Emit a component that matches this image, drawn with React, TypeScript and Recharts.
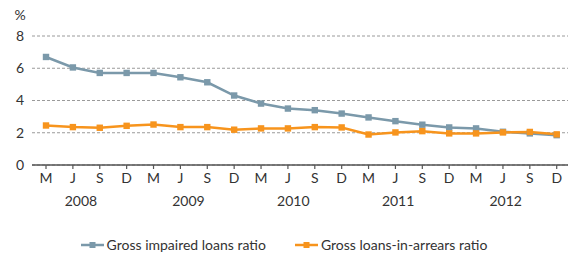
import React from 'react';
import { LineChart, Line, XAxis, YAxis, CartesianGrid, Legend } from 'recharts';

const months = ['M','J','S','D','M','J','S','D','M','J','S','D','M','J','S','D','M','J','S','D'];
const years = ['2008','2009','2010','2011','2012'];
const yearTicks = [1.3, 5.3, 9.2, 13.1, 17.1];
const impaired = [6.7,6.05,5.71,5.71,5.71,5.44,5.13,4.31,3.81,3.5,3.4,3.19,2.95,2.72,2.5,2.33,2.27,2.06,1.96,1.85];
const arrears = [2.45,2.35,2.31,2.43,2.51,2.35,2.35,2.19,2.27,2.27,2.35,2.33,1.89,2.02,2.1,1.96,1.96,2.02,2.05,1.9];
const yTicks = [0,2,4,6,8];

const BLUE = '#7b99aa';
const ORANGE = '#f7941d';
const TEXT = '#333333';
const FONT = 'Lato, "Open Sans", sans-serif';

const data = months.map((m, i) => ({ idx: i, month: m, impaired: impaired[i], arrears: arrears[i] }));

const squareDot = (color: string) => (props: any) => {
  const { cx, cy, index } = props;
  if (cx == null || cy == null) return <g key={index} />;
  return <rect key={index} x={cx - 3.2} y={cy - 3.2} width={6.4} height={6.4} fill={color} />;
};

const LegendContent = () => {
  const items = [
    { name: 'Gross impaired loans ratio', color: BLUE },
    { name: 'Gross loans-in-arrears ratio', color: ORANGE },
  ];
  return (
    <div style={{ height: 39, paddingTop: 19, boxSizing: 'border-box', display: 'flex', justifyContent: 'center', gap: 29, fontFamily: FONT, fontSize: 14, color: TEXT, lineHeight: '20px' }}>
      {items.map((it) => (
        <div key={it.name} style={{ display: 'flex', alignItems: 'center' }}>
          <svg width={23} height={8} style={{ marginRight: 3 }}>
            <line x1={0} y1={4} x2={23} y2={4} stroke={it.color} strokeWidth={2.5} />
            <rect x={8.5} y={1} width={6} height={6} fill={it.color} />
          </svg>
          <span>{it.name}</span>
        </div>
      ))}
    </div>
  );
};

const PercentLabel = (props: any) => {
  const vb = props.viewBox || { x: 0, y: 36 };
  return (
    <text x={vb.x + 20} y={vb.y - 16} textAnchor="middle" fill={TEXT} fontSize={14} fontFamily={FONT}>%</text>
  );
};

export default function App() {
  return (
    <div style={{ position: 'absolute', left: 0, top: 0, width: 568, height: 255, background: '#fff' }}>
      <LineChart width={568} height={255} data={data} margin={{ top: 36, right: 0, bottom: 0, left: 0 }}>
        <CartesianGrid vertical={false} stroke="#9a9a9a" strokeDasharray="3 2" strokeWidth={1} />
        <XAxis
          dataKey="idx"
          type="number"
          domain={[-0.521, 19.42]}
          allowDataOverflow
          ticks={data.map((d) => d.idx)}
          interval={0}
          tickFormatter={(v: number) => months[v]}
          tickSize={4}
          tickMargin={4}
          height={31}
          axisLine={{ stroke: '#555', strokeWidth: 1.5 }}
          tickLine={{ stroke: '#555', strokeWidth: 1.2 }}
          tick={{ fill: TEXT, fontSize: 14, fontFamily: FONT }}
        />
        <XAxis
          xAxisId="year"
          dataKey="idx"
          type="number"
          domain={[-0.521, 19.42]}
          allowDataOverflow
          ticks={yearTicks}
          interval={0}
          tickFormatter={(v: number) => years[yearTicks.indexOf(v)]}
          tickSize={0}
          tickMargin={0}
          height={20}
          axisLine={false}
          tickLine={false}
          tick={{ fill: TEXT, fontSize: 14, fontFamily: FONT }}
        />
        <YAxis
          domain={[0, 8]}
          ticks={yTicks}
          width={32}
          axisLine={false}
          tickLine={false}
          tick={{ fill: TEXT, fontSize: 14, fontFamily: FONT }}
          label={<PercentLabel />}
        />
        <Legend verticalAlign="bottom" content={<LegendContent />} wrapperStyle={{ left: 0, width: 568 }} />
        <Line dataKey="impaired" name="Gross impaired loans ratio" stroke={BLUE} strokeWidth={2.5} dot={squareDot(BLUE)} activeDot={false} isAnimationActive={false} />
        <Line dataKey="arrears" name="Gross loans-in-arrears ratio" stroke={ORANGE} strokeWidth={2.5} dot={squareDot(ORANGE)} activeDot={false} isAnimationActive={false} />
      </LineChart>
    </div>
  );
}
